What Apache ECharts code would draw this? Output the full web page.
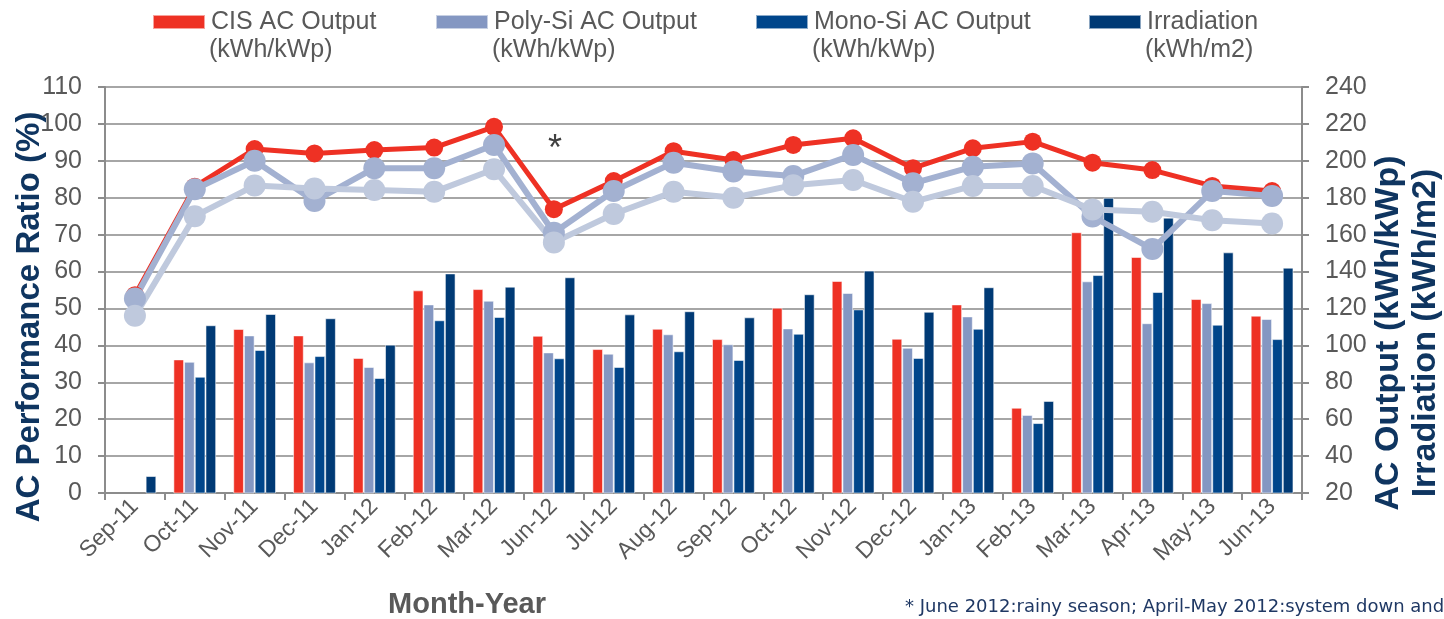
<!DOCTYPE html>
<html>
<head>
<meta charset="utf-8">
<title>AC Performance Ratio</title>
<script src="https://cdn.jsdelivr.net/npm/echarts@6/dist/echarts.min.js"></script>
<style>
  html, body { margin: 0; padding: 0; background: #fff; }
  #chart { width: 1444px; height: 619px; }
</style>
</head>
<body>
<div id="chart"></div>
<script>
// month labels
const months = ['Sep-11', 'Oct-11', 'Nov-11', 'Dec-11', 'Jan-12', 'Feb-12', 'Mar-12', 'Jun-12', 'Jul-12', 'Aug-12',
  'Sep-12', 'Oct-12', 'Nov-12', 'Dec-12', 'Jan-13', 'Feb-13', 'Mar-13', 'Apr-13', 'May-13', 'Jun-13'];

// bars, right axis (kWh/kWp, kWh/m2)
const cisOutput = [18, 92.4, 108.9, 105.4, 93.2, 129.8, 130.5, 105.2, 98.0, 109.0, 103.4, 120.4, 134.9, 103.6, 122.2, 66.2, 161.3, 147.9, 125.1, 116.1];
const polyOutput = [18, 91.1, 105.4, 90.8, 88.3, 122.2, 124.2, 96.2, 95.5, 106.0, 100.6, 109.2, 128.4, 98.7, 115.7, 62.3, 134.7, 112.0, 122.9, 114.3];
const monoOutput = [18, 83.0, 97.5, 94.2, 82.3, 113.6, 115.4, 93.0, 88.3, 96.8, 92.1, 106.3, 119.5, 93.2, 109.0, 57.9, 138.1, 128.9, 111.2, 103.4];
const irradiation = [29.2, 110.9, 117.0, 114.7, 100.4, 139.0, 131.8, 136.9, 116.8, 118.5, 115.2, 127.7, 140.5, 118.2, 131.5, 69.9, 180.0, 169.2, 150.4, 142.1];

// lines, left axis (performance ratio %)
const cisPR = [53.6, 83.0, 93.2, 92.0, 92.9, 93.6, 99.2, 76.9, 84.5, 92.6, 90.2, 94.3, 96.1, 88.0, 93.4, 95.2, 89.5, 87.5, 83.2, 81.8];
const polyPR = [52.7, 82.3, 90.0, 79.1, 88.0, 88.0, 94.3, 70.5, 81.8, 89.5, 87.1, 85.9, 91.6, 83.9, 88.4, 89.3, 74.9, 66.1, 81.8, 80.5];
const monoPR = [48.0, 75.0, 83.3, 82.5, 82.1, 81.6, 87.7, 67.9, 75.6, 81.6, 80.0, 83.4, 84.8, 78.9, 83.2, 83.2, 76.8, 76.2, 73.9, 73.0];

const legendNames = ['CIS AC Output', 'Poly-Si AC Output', 'Mono-Si AC Output', 'Irradiation'];
const legendUnits = ['(kWh/kWp)', '(kWh/kWp)', '(kWh/kWp)', '(kWh/m2)'];
const legendLeft = [152, 435, 755, 1088];

const gray = '#595959';
const navy = '#0F3560';
const font = 'Liberation Sans, Arial, sans-serif';

const myChart = echarts.init(document.getElementById('chart'));

const barStyle = color => ({
  color: color,
  borderColor: 'rgba(255,255,255,0.55)',
  borderWidth: 1
});

const lineSeries = (name, data, color, size, width) => ({
  name: name,
  type: 'line',
  yAxisIndex: 0,
  data: data,
  symbol: 'circle',
  symbolSize: size,
  lineStyle: { color: color, width: width },
  itemStyle: { color: color },
  z: 5
});

const option = {
  animation: false,
  backgroundColor: '#fff',
  textStyle: { fontFamily: font },
  legend: legendNames.map((n, i) => ({
    data: [n],
    left: legendLeft[i],
    top: 7,
    itemWidth: 52,
    itemHeight: 14,
    itemGap: 5,
    padding: 0,
    selectedMode: false,
    icon: 'rect',
    textStyle: { fontSize: 25, color: gray, lineHeight: 30, padding: [0, 0, 0, 1] }
  })),
  grid: { left: 105, right: 142, top: 87, bottom: 126 },
  xAxis: {
    type: 'category',
    data: months,
    boundaryGap: true,
    axisLine: { lineStyle: { color: '#8C8C8C', width: 2 } },
    axisTick: { show: true, interval: 0, length: 7, lineStyle: { color: '#8C8C8C', width: 2 } },
    axisLabel: { interval: 0, rotate: 45, margin: 10, fontSize: 23, color: gray }
  },
  yAxis: [
    {
      type: 'value',
      min: 0,
      max: 110,
      interval: 10,
      axisLine: { show: true, lineStyle: { color: '#8C8C8C', width: 2 } },
      axisTick: { show: true, length: 7, lineStyle: { color: '#8C8C8C', width: 2 } },
      axisLabel: { fontSize: 25, color: gray, margin: 23 },
      splitLine: { lineStyle: { color: '#A6A6A6', width: 2 } }
    },
    {
      type: 'value',
      min: 20,
      max: 240,
      interval: 20,
      position: 'right',
      axisLine: { show: true, lineStyle: { color: '#8C8C8C', width: 2 } },
      axisTick: { show: true, length: 7, lineStyle: { color: '#8C8C8C', width: 2 } },
      axisLabel: { fontSize: 25, color: gray, margin: 23 },
      splitLine: { show: false }
    }
  ],
  series: [
    { name: 'CIS AC Output', type: 'bar', yAxisIndex: 1, data: cisOutput, barWidth: 10.7, barGap: '0%', itemStyle: barStyle('#EE3124') },
    { name: 'Poly-Si AC Output', type: 'bar', yAxisIndex: 1, data: polyOutput, barWidth: 10.7, barGap: '0%', itemStyle: barStyle('#8497C2') },
    { name: 'Mono-Si AC Output', type: 'bar', yAxisIndex: 1, data: monoOutput, barWidth: 10.7, barGap: '0%', itemStyle: barStyle('#00468B') },
    { name: 'Irradiation', type: 'bar', yAxisIndex: 1, data: irradiation, barWidth: 10.7, barGap: '0%', itemStyle: barStyle('#003A75') },
    lineSeries('CIS PR', cisPR, '#EE3124', 18, 5),
    lineSeries('Poly-Si PR', polyPR, '#A3B1D1', 22, 6),
    lineSeries('Mono-Si PR', monoPR, '#BFC9DD', 22, 6)
  ],
  graphic: [
    // second line of legend labels
    ...legendUnits.map((u, i) => ({
      type: 'text',
      left: legendLeft[i] + 57,
      top: 38,
      style: { text: u, fontSize: 25, fill: gray, fontFamily: font }
    })),
    {
      type: 'text', x: 30, y: 317, rotation: Math.PI / 2,
      style: { text: 'AC Performance Ratio (%)', fontSize: 33, fontWeight: 'bold', fill: navy,
        align: 'center', verticalAlign: 'middle', fontFamily: font }
    },
    {
      type: 'text', x: 1389, y: 333, rotation: Math.PI / 2,
      style: { text: 'AC Output (kWh/kWp)', fontSize: 34, fontWeight: 'bold', fill: navy,
        align: 'center', verticalAlign: 'middle', fontFamily: font }
    },
    {
      type: 'text', x: 1426, y: 333, rotation: Math.PI / 2,
      style: { text: 'Irradiation (kWh/m2)', fontSize: 34, fontWeight: 'bold', fill: navy,
        align: 'center', verticalAlign: 'middle', fontFamily: font }
    },
    {
      type: 'text', x: 467, y: 605,
      style: { text: 'Month-Year', fontSize: 29, fontWeight: 'bold', fill: gray,
        align: 'center', verticalAlign: 'middle', fontFamily: font }
    },
    {
      type: 'text', x: 555, y: 150,
      style: { text: '*', fontSize: 36, fill: '#404040', align: 'center', verticalAlign: 'middle', fontFamily: font }
    },
    {
      type: 'text', x: 905, y: 607,
      style: { text: '* June 2012:rainy season; April-May 2012:system down and', fontSize: 18, fill: '#1F3864',
        align: 'left', verticalAlign: 'middle', fontFamily: 'DejaVu Sans, sans-serif' }
    }
  ]
};

myChart.setOption(option);
window.addEventListener('resize', () => {
  myChart.resize();
});
</script>
</body>
</html>
